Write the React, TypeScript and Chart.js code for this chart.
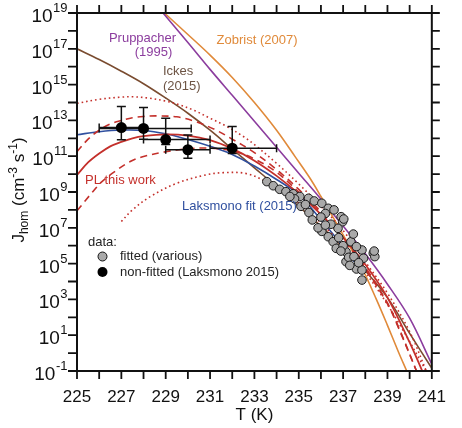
import React, { useEffect, useRef } from 'react';
import { Chart, registerables } from 'chart.js';

Chart.register(...registerables);

const FONT = '"Liberation Sans", Arial, Helvetica, sans-serif';

// ---------- axes ----------
const xTickValues = [225, 226, 227, 228, 229, 230, 231, 232, 233, 234, 235, 236, 237, 238, 239, 240, 241];
const xLabelValues = [225, 227, 229, 231, 233, 235, 237, 239, 241];
const yTickExponents = [-1, 0, 1, 2, 3, 4, 5, 6, 7, 8, 9, 10, 11, 12, 13, 14, 15, 16, 17, 18, 19];
const yLabelExponents = [19, 17, 15, 13, 11, 9, 7, 5, 3, 1, -1];

// ---------- curves (T in K, log10 J) ----------
const pruppacherT = [228.88, 230, 231, 232, 233, 234, 235, 236, 237, 238, 239, 240, 241];
const pruppacherLogJ = [19.0, 17.35, 15.85, 14.4, 12.95, 11.5, 10.05, 8.6, 7.1, 5.55, 3.85, 1.95, -0.62];

const zobristT = [228.94, 230, 231, 232, 233, 234, 234.85, 235.5, 236, 237, 237.85, 238.5, 239, 239.5, 239.87];
const zobristLogJ = [19.0, 17.8, 16.65, 15.4, 14.0, 12.45, 10.95, 9.78, 8.75, 6.6, 4.75, 3.0, 1.55, 0.05, -1.0];

const ickesT = [225, 226, 227, 228, 229, 230, 231, 232, 233, 234, 235, 236, 237, 238, 239, 240, 241];
const ickesLogJ = [17.0, 16.4, 15.75, 15.05, 14.25, 13.4, 12.45, 11.4, 10.35, 9.3, 8.2, 7.1, 5.9, 4.6, 3.1, 1.1, -0.85];

const plT = [225, 225.5, 226, 226.5, 227, 227.5, 228, 229, 230, 231, 232, 233, 234, 235, 236, 237, 238, 239, 240, 240.57];
const plLogJ = [9.95, 10.65, 11.15, 11.55, 11.8, 12.0, 12.12, 12.22, 12.15, 11.9, 11.42, 10.75, 9.9, 8.9, 7.75, 6.45, 4.95, 3.1, 0.6, -1.0];

const plDashUpT = [225, 225.5, 226, 226.5, 227, 227.5, 228, 228.6, 229.5, 230.3, 231.2, 232, 233, 234, 235, 236, 237, 238, 239, 239.5, 240.31];
const plDashUpLogJ = [11.25, 11.95, 12.45, 12.8, 13.0, 13.15, 13.22, 13.25, 13.2, 12.95, 12.5, 11.95, 11.2, 10.25, 9.15, 7.9, 6.45, 4.8, 2.8, 1.45, -1.0];

const plDashLowT = [225, 225.4, 225.7, 226.1, 226.6, 227.4, 228, 229, 230, 231, 232, 233, 234, 235, 236, 237, 238, 239, 239.5, 240.31];
const plDashLowLogJ = [7.95, 8.55, 9.0, 9.55, 10.05, 10.7, 10.98, 11.25, 11.42, 11.45, 11.3, 10.85, 10.1, 9.0, 7.8, 6.35, 4.7, 2.75, 1.4, -1.0];

const plDotUpT = [225, 226, 227, 227.5, 228.2, 229, 229.6, 230.3, 231, 231.7, 232.5, 233, 234, 235, 236, 237, 238, 239, 240, 240.75];
const plDotUpLogJ = [13.95, 14.18, 14.3, 14.32, 14.25, 14.08, 13.88, 13.55, 13.12, 12.7, 12.1, 11.65, 10.6, 9.45, 8.2, 6.85, 5.1, 3.35, 1.2, -1.0];

const plDotLowT = [227.0, 227.5, 228.3, 229.5, 230.8, 231.6, 232.6, 233.5, 234.5, 235.5, 236.5, 237.5, 238.5, 239.5, 240.75];
const plDotLowLogJ = [7.35, 8.0, 8.74, 9.49, 9.95, 10.08, 10.04, 9.6, 8.85, 7.85, 6.65, 5.3, 3.65, 1.7, -1.0];

const laksmonoFitT = [225, 226, 227, 228, 229, 230, 231, 232, 233, 234, 235, 236, 237, 237.5];
const laksmonoFitLogJ = [12.2, 12.37, 12.46, 12.44, 12.25, 11.93, 11.55, 11.1, 10.45, 9.7, 8.85, 7.45, 5.95, 5.1];

// ---------- data: fitted (various) ----------
const fittedT = [233.56, 233.85, 234.14, 234.42, 234.75, 235.05, 235.44, 234.81, 235.1, 235.46, 235.7, 236.04, 236.33, 236.2, 236.59, 236.91, 236.98, 237.03, 235.61, 236.04, 236.33, 236.55, 236.69, 236.77, 237.13, 237.13, 237.25, 237.35, 237.46, 237.49, 237.6, 237.85, 237.92, 237.85, 237.85, 238.36, 238.43, 238.4, 236.45, 235.87, 236.0, 235.3, 234.6, 236.8, 237.0, 237.7, 236.2, 236.9, 237.3, 237.6];
const fittedLogJ = [9.58, 9.35, 9.15, 9.02, 8.9, 8.75, 8.65, 8.62, 8.2, 7.85, 8.5, 8.37, 8.09, 7.8, 8.0, 7.62, 7.34, 7.49, 7.44, 6.8, 6.5, 6.22, 5.85, 6.97, 5.66, 5.11, 5.35, 6.22, 6.65, 5.39, 4.7, 5.76, 5.3, 4.64, 4.08, 5.58, 5.39, 5.7, 7.2, 7.0, 7.6, 8.3, 8.75, 6.45, 6.0, 5.05, 7.15, 5.7, 4.9, 5.95];

// ---------- data: non-fitted (Laksmono 2015) with error bars ----------
const nonFittedT = [227.0, 228.0, 229.0, 230.0, 232.0];
const nonFittedLogJ = [12.6, 12.55, 11.93, 11.36, 11.45];
const nonFittedTLow = [226.0, 226.0, 228.0, 229.0, 231.0];
const nonFittedTHigh = [228.0, 230.15, 231.0, 231.0, 234.0];
const nonFittedLogJLow = [11.92, 11.94, 11.65, 10.88, 11.15];
const nonFittedLogJHigh = [13.78, 13.72, 13.12, 12.18, 12.66];

const PURPLE = '#8c3d9e';
const ORANGE = '#e08a3a';
const BROWN = '#7a4c30';
const RED = '#c4302b';
const BLUE = '#30509f';

const pts = (ts: number[], ls: number[]) => ts.map((t, i) => ({ x: t, y: Math.pow(10, ls[i]) }));

const lineDs = (label: string, ts: number[], ls: number[], color: string, dash: number[] = [], width = 1.6) => ({
  label,
  data: pts(ts, ls),
  showLine: true,
  borderColor: color,
  backgroundColor: color,
  borderWidth: width,
  borderDash: dash,
  pointRadius: 0,
  pointHoverRadius: 0,
  fill: false,
  tension: 0.35,
});

const decorPlugin = {
  id: 'decor',
  beforeDatasetDraw(chart: any, args: any) {
    if (args.index !== 0) return;
    const { ctx, scales } = chart;
    const xs = scales.x, ys = scales.y;
    ctx.save();
    ctx.strokeStyle = '#111';
    ctx.lineWidth = 1.5;
    ctx.beginPath();
    for (let i = 0; i < nonFittedT.length; i++) {
      const cx = xs.getPixelForValue(nonFittedT[i]);
      const cy = ys.getPixelForValue(Math.pow(10, nonFittedLogJ[i]));
      const x1 = xs.getPixelForValue(nonFittedTLow[i]);
      const x2 = xs.getPixelForValue(nonFittedTHigh[i]);
      const y1 = ys.getPixelForValue(Math.pow(10, nonFittedLogJLow[i]));
      const y2 = ys.getPixelForValue(Math.pow(10, nonFittedLogJHigh[i]));
      ctx.moveTo(x1, cy); ctx.lineTo(x2, cy);
      ctx.moveTo(x1, cy - 4); ctx.lineTo(x1, cy + 4);
      ctx.moveTo(x2, cy - 4); ctx.lineTo(x2, cy + 4);
      ctx.moveTo(cx, y1); ctx.lineTo(cx, y2);
      ctx.moveTo(cx - 4.5, y1); ctx.lineTo(cx + 4.5, y1);
      ctx.moveTo(cx - 4.5, y2); ctx.lineTo(cx + 4.5, y2);
    }
    ctx.stroke();
    ctx.restore();
  },
  afterDraw(chart: any) {
    const { ctx, chartArea: a, scales } = chart;
    const xs = scales.x, ys = scales.y;
    ctx.save();
    // frame
    ctx.strokeStyle = '#111';
    ctx.lineWidth = 2;
    ctx.strokeRect(a.left, a.top, a.right - a.left, a.bottom - a.top);
    // ticks
    ctx.lineWidth = 1.8;
    ctx.beginPath();
    for (const v of xTickValues) {
      const px = xs.getPixelForValue(v);
      ctx.moveTo(px, a.bottom); ctx.lineTo(px, a.bottom + 8);
      ctx.moveTo(px, a.top); ctx.lineTo(px, a.top - 8);
    }
    for (const e of yTickExponents) {
      const py = ys.getPixelForValue(Math.pow(10, e));
      ctx.moveTo(a.left, py); ctx.lineTo(a.left - 9, py);
      ctx.moveTo(a.right, py); ctx.lineTo(a.right + 8, py);
    }
    ctx.stroke();

    // y tick labels 10^n
    ctx.fillStyle = '#111';
    ctx.textAlign = 'left';
    ctx.textBaseline = 'alphabetic';
    for (const e of yLabelExponents) {
      const py = ys.getPixelForValue(Math.pow(10, e));
      ctx.font = `19px ${FONT}`;
      const wb = ctx.measureText('10').width;
      ctx.font = `13px ${FONT}`;
      const ex = String(e);
      const we = ctx.measureText(ex).width;
      const right = a.left - 9.5;
      ctx.font = `19px ${FONT}`;
      ctx.fillText('10', right - we - wb - 0.5, py + 9);
      ctx.font = `13px ${FONT}`;
      ctx.fillText(ex, right - we, py - 1);
    }

    // y title: J_hom (cm^-3 s^-1)
    const segs = [
      { t: 'J', s: 17, dy: 0 },
      { t: 'hom', s: 12, dy: 4 },
      { t: ' (cm', s: 17, dy: 0 },
      { t: '-3', s: 12, dy: -7 },
      { t: ' s', s: 17, dy: 0 },
      { t: '-1', s: 12, dy: -7 },
      { t: ')', s: 17, dy: 0 },
    ];
    let total = 0;
    for (const sg of segs) { ctx.font = `${sg.s}px ${FONT}`; total += ctx.measureText(sg.t).width; }
    ctx.save();
    ctx.translate(24, 190);
    ctx.rotate(-Math.PI / 2);
    let cx = -total / 2;
    for (const sg of segs) {
      ctx.font = `${sg.s}px ${FONT}`;
      ctx.fillText(sg.t, cx, sg.dy);
      cx += ctx.measureText(sg.t).width;
    }
    ctx.restore();

    // curve annotations
    ctx.textBaseline = 'middle';
    ctx.font = `13px ${FONT}`;
    ctx.textAlign = 'center';
    ctx.fillStyle = PURPLE;
    ctx.fillText('Pruppacher', 142.5, 38);
    ctx.fillText('(1995)', 153.5, 52.5);
    ctx.fillStyle = ORANGE;
    ctx.fillText('Zobrist (2007)', 257, 40);
    ctx.textAlign = 'left';
    ctx.fillStyle = '#6d5444';
    ctx.fillText('Ickes', 163, 71);
    ctx.fillText('(2015)', 163, 86.5);
    ctx.fillStyle = RED;
    ctx.fillText('PL this work', 85, 180);
    ctx.fillStyle = BLUE;
    ctx.fillText('Laksmono fit (2015)', 182, 206.5);

    // legend
    ctx.fillStyle = '#222';
    ctx.fillText('data:', 88, 242.5);
    ctx.fillText('fitted (various)', 120, 256.5);
    ctx.fillText('non-fitted (Laksmono 2015)', 120, 272);
    ctx.beginPath();
    ctx.arc(102.5, 256.5, 4.5, 0, Math.PI * 2);
    ctx.fillStyle = '#a9a9a9';
    ctx.fill();
    ctx.lineWidth = 1;
    ctx.strokeStyle = '#111';
    ctx.stroke();
    ctx.beginPath();
    ctx.arc(102.5, 272, 5, 0, Math.PI * 2);
    ctx.fillStyle = '#000';
    ctx.fill();
    ctx.restore();
  },
};

export default function App() {
  const ref = useRef<HTMLCanvasElement>(null);
  useEffect(() => {
    document.body.style.margin = '0';
    const canvas = ref.current;
    if (!canvas) return;
    const chart = new Chart(canvas, {
      type: 'scatter',
      data: {
        datasets: [
          {
            label: 'non-fitted (Laksmono 2015)',
            data: pts(nonFittedT, nonFittedLogJ),
            pointRadius: 5.5,
            pointHoverRadius: 5.5,
            backgroundColor: '#000',
            borderColor: '#000',
            borderWidth: 0,
          },
          {
            label: 'fitted (various)',
            data: pts(fittedT, fittedLogJ),
            pointRadius: 4.3,
            pointHoverRadius: 4.3,
            backgroundColor: '#a9a9a9',
            borderColor: '#1a1a1a',
            borderWidth: 1,
          },
          lineDs('PL this work', plT, plLogJ, RED, [], 1.8),
          lineDs('PL upper (dashed)', plDashUpT, plDashUpLogJ, RED, [7, 5]),
          lineDs('PL lower (dashed)', plDashLowT, plDashLowLogJ, RED, [7, 5]),
          lineDs('PL upper (dotted)', plDotUpT, plDotUpLogJ, RED, [1.6, 3]),
          lineDs('PL lower (dotted)', plDotLowT, plDotLowLogJ, RED, [1.6, 3]),
          lineDs('Laksmono fit (2015)', laksmonoFitT, laksmonoFitLogJ, BLUE),
          lineDs('Ickes (2015)', ickesT, ickesLogJ, BROWN),
          lineDs('Pruppacher (1995)', pruppacherT, pruppacherLogJ, PURPLE),
          lineDs('Zobrist (2007)', zobristT, zobristLogJ, ORANGE),
        ],
      },
      options: {
        animation: false,
        responsive: false,
        maintainAspectRatio: false,
        events: [],
        layout: { padding: { left: 0, right: 16, top: 13, bottom: 0 } },
        plugins: { legend: { display: false }, tooltip: { enabled: false } },
        scales: {
          x: {
            type: 'linear',
            min: 225,
            max: 241,
            afterFit: (s: any) => { s.height = 57; },
            afterBuildTicks: (s: any) => { s.ticks = xTickValues.map((v) => ({ value: v })); },
            grid: { display: false, drawTicks: false },
            border: { display: false },
            ticks: {
              autoSkip: false,
              maxRotation: 0,
              minRotation: 0,
              padding: 16,
              color: '#111',
              font: { family: FONT, size: 17 },
              callback: (v: any) => (xLabelValues.includes(Number(v)) ? String(v) : ''),
            },
            title: {
              display: true,
              text: 'T (K)',
              color: '#111',
              font: { family: FONT, size: 17 },
              padding: { top: 0, bottom: 2 },
            },
          },
          y: {
            type: 'logarithmic',
            min: 0.1,
            max: 1e19,
            afterFit: (s: any) => { s.width = 77; },
            grid: { display: false, drawTicks: false },
            border: { display: false },
            ticks: { display: false },
          },
        },
      },
      plugins: [decorPlugin],
    } as any);
    return () => chart.destroy();
  }, []);
  return <canvas ref={ref} width={462} height={428} style={{ display: 'block', width: 462, height: 428 }} />;
}
